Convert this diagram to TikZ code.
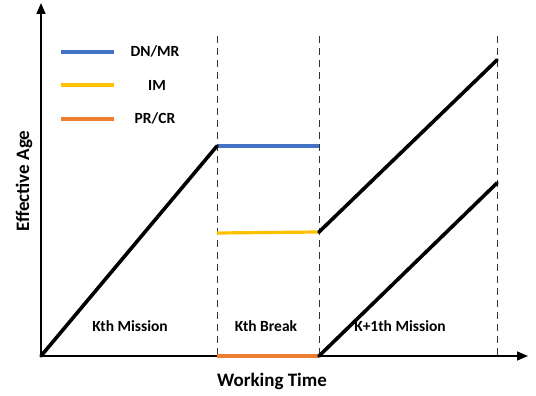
\documentclass[tikz,border=0pt]{standalone}
\usepackage{fontspec}
\setmainfont{Carlito}
\usetikzlibrary{arrows.meta}
\definecolor{dnblue}{RGB}{68,114,196}
\definecolor{imyellow}{RGB}{255,192,0}
\definecolor{prorange}{RGB}{237,125,49}
\tikzset{
  axis/.style={line width=1.6pt,-{Triangle[length=11pt,width=9pt]}},
  guide/.style={line width=1pt,dash pattern=on 7pt off 5pt,black!80},
  agepath/.style={line width=3.6pt},
  level/.style={line width=3.2pt},
  lbl/.style={font=\bfseries\fontsize{15.5}{17}\selectfont,inner sep=0pt},
  axlbl/.style={font=\bfseries\fontsize{19}{21}\selectfont,inner sep=0pt}
}
\begin{document}
\begin{tikzpicture}[x=1pt,y=-1pt]
\useasboundingbox (0,0) rectangle (536,396);
% key points
\coordinate (O) at (41,356);
\coordinate (ytop) at (41,3);
\coordinate (xend) at (528,356);
\coordinate (a1) at (217,146);
\coordinate (b1) at (319,146);
\coordinate (a2) at (217,233);
\coordinate (b2) at (319,232);
\coordinate (e2) at (497,60);
\coordinate (s3) at (319,356);
\coordinate (e3) at (497,183);
\coordinate (p1) at (217,356);
\coordinate (p3) at (497,356);
% dashed guides
\coordinate (g1t) at (217,36);
\coordinate (g2t) at (319,36);
\coordinate (g3t) at (497,36);
\draw[guide] (g1t) -- (p1);
\draw[guide] (g2t) -- (s3);
\draw[guide] (g3t) -- (p3);
% axes
\draw[axis] (O) -- (xend);
\draw[axis] (O) -- (ytop);
% levels during the break
\draw[level,prorange] (p1) -- (s3);
\draw[level,dnblue] (a1) -- (b1);
\draw[level,imyellow] (a2) -- (b2);
% effective age paths
\draw[agepath,line cap=round] (O) -- (a1);
\draw[agepath,line cap=round] (b2) -- (e2);
\draw[agepath,line cap=round] (s3) -- (e3);
% legend
\coordinate (l1a) at (61,52); \coordinate (l1b) at (114,52);
\coordinate (l2a) at (61,85); \coordinate (l2b) at (114,85);
\coordinate (l3a) at (61,119); \coordinate (l3b) at (114,119);
\draw[level,dnblue] (l1a) -- (l1b);
\draw[level,imyellow] (l2a) -- (l2b);
\draw[level,prorange] (l3a) -- (l3b);
\node[lbl] (t1) at (155,51) {DN/MR};
\node[lbl] (t2) at (157,85) {IM};
\node[lbl] (t3) at (155,118) {PR/CR};
% phase labels
\node[lbl] (m1) at (130,326) {Kth Mission};
\node[lbl] (m2) at (266,326) {Kth Break};
\node[lbl] (m3) at (400,326) {K+1th Mission};
% axis titles
\node[axlbl] (xl) at (272,381) {Working Time};
\node[axlbl,rotate=90] (yl) at (24,181) {Effective Age};
\end{tikzpicture}
\end{document}
